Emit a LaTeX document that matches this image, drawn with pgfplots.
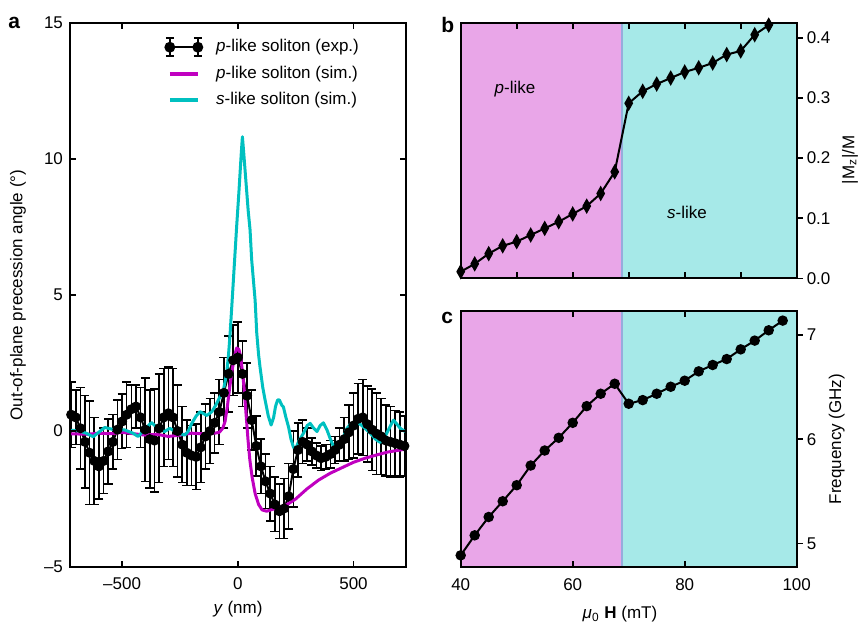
\documentclass[border=0pt]{standalone}
\usepackage{fontspec}
\setmainfont{Liberation Sans}
\usepackage{pgfplots}
\usepackage{pgfplotstable}
\pgfplotsset{compat=1.18}

\definecolor{simp}{RGB}{192,0,192}
\definecolor{sims}{RGB}{0,192,192}
\definecolor{bgp}{RGB}{233,166,232}
\definecolor{bgs}{RGB}{166,233,232}
\definecolor{divline}{RGB}{150,172,220}

% p-like soliton, experiment: y (nm), angle (deg), error
\pgfplotstableread{
y a e
-720 0.6 1.2
-700 0.5 1.0
-680 0.1 1.5
-660 -0.4 1.7
-640 -0.8 1.9
-620 -1.1 1.6
-600 -1.3 1.2
-580 -1.1 1.2
-560 -0.75 1.2
-540 -0.4 1.0
-520 0.05 1.1
-500 0.35 1.0
-480 0.6 1.2
-460 0.8 0.9
-440 0.9 0.8
-420 0.5 1.1
-400 0.05 1.9
-380 -0.3 1.8
-360 -0.35 1.9
-340 0.1 2.0
-320 0.5 1.8
-300 0.65 1.7
-280 0.5 1.8
-260 0.0 1.7
-240 -0.5 1.4
-220 -0.8 1.2
-200 -0.9 1.1
-180 -0.95 1.2
-160 -0.6 1.3
-140 -0.2 1.2
-120 0.0 1.2
-100 0.3 1.1
-80 0.7 1.2
-60 1.4 1.3
-40 2.1 1.4
-20 2.6 1.3
0 2.7 1.3
20 2.1 1.2
40 1.3 1.2
60 0.4 1.1
80 -0.55 1.1
100 -1.3 1.0
120 -1.85 1.0
140 -2.3 1.0
160 -2.7 1.0
180 -2.95 1.0
200 -2.85 1.1
220 -2.4 1.2
240 -1.4 1.4
260 -0.7 1.0
280 -0.4 0.8
300 -0.5 0.6
320 -0.75 0.5
340 -0.9 0.45
360 -1.0 0.45
380 -0.95 0.45
400 -0.85 0.5
420 -0.7 0.5
440 -0.5 0.6
460 -0.3 0.8
480 -0.05 1.0
500 0.2 1.2
520 0.45 1.3
540 0.5 1.4
560 0.25 1.4
580 0.05 1.5
600 -0.1 1.5
620 -0.2 1.4
640 -0.35 1.3
660 -0.4 1.3
680 -0.45 1.2
700 -0.5 1.2
720 -0.55 1.1
}\expdata

% p-like soliton, simulation
\pgfplotstableread{
y a
-725 -0.1
-650 -0.12
-600 -0.08
-550 -0.1
-500 -0.05
-450 -0.1
-400 -0.15
-350 -0.12
-300 -0.2
-250 -0.15
-200 -0.08
-150 -0.1
-100 -0.08
-80 -0.05
-65 0.1
-55 0.35
-45 0.9
-35 1.6
-25 2.2
-15 2.7
-5 3.05
5 3.0
12 2.75
20 2.2
28 1.5
36 0.6
44 -0.3
52 -1.05
62 -1.7
75 -2.3
90 -2.7
105 -2.9
125 -2.95
150 -2.88
180 -2.82
210 -2.72
250 -2.5
300 -2.12
350 -1.8
400 -1.55
450 -1.35
500 -1.15
550 -1.0
600 -0.88
650 -0.77
700 -0.7
725 -0.67
}\simp

% s-like soliton, simulation
\pgfplotstableread{
y a
-725 0.03
-690 0.01
-655 -0.08
-625 -0.21
-597 -0.02
-575 0.13
-550 0.08
-532 0.04
-489 0.04
-453 -0.08
-431 -0.2
-410 -0.02
-395 0.12
-373 0.31
-345 0.1
-316 -0.02
-294 0.1
-258 -0.08
-229 -0.15
-215 -0.02
-199 0.28
-180 0.55
-163 0.71
-150 0.65
-134 0.57
-112 0.71
-95 0.95
-84 1.14
-62 1.51
-48 2.12
-40 2.8
-33 3.6
-25 4.7
-15 6.1
-5 7.5
5 8.8
15 10.2
20 10.82
25 10.3
35 9.2
45 8.1
53 7.4
60 6.3
70 5.3
75 4.8
82 3.6
90 2.8
96 2.36
108 1.6
118 1.14
132 0.55
144 0.22
155 0.5
163 0.9
172 1.14
180 1.14
190 0.95
197 0.89
208 0.5
219 0.16
230 -0.3
240 -0.58
248 -0.7
262 -0.4
284 -0.08
300 0.2
313 0.28
328 0.1
342 -0.02
356 0.2
370 0.3
385 0.05
399 -0.27
415 -0.6
428 -0.7
443 -0.5
457 -0.21
472 0.1
486 0.25
510 0.28
529 0.25
550 0.1
572 -0.08
595 -0.3
615 -0.42
630 -0.3
644 -0.08
660 0.2
673 0.4
688 0.25
702 0.1
723 -0.02
}\sims

% field (mT), |Mz|/M, frequency (GHz)
\pgfplotstableread{
h mz f
40 0.011 4.885
42.5 0.024 5.077
45 0.041 5.253
47.5 0.054 5.404
50 0.061 5.558
52.5 0.072 5.747
55 0.083 5.891
57.5 0.094 6.013
60 0.107 6.157
62.5 0.120 6.317
65 0.141 6.436
67.5 0.177 6.532
70 0.291 6.340
72.5 0.311 6.375
75 0.323 6.436
77.5 0.333 6.503
80 0.343 6.561
82.5 0.350 6.651
85 0.358 6.712
87.5 0.372 6.769
90 0.378 6.862
92.5 0.405 6.946
95 0.421 7.045
97.5 0.431 7.138
}\field

\pgfplotsset{
  every axis/.append style={
    scale only axis, enlargelimits=false, axis on top,
    axis line style={line width=1pt},
    tick style={line width=0.8pt, black},
    major tick length=3pt, tick align=inside,
    font=\fontsize{8.5}{10}\selectfont,
    ticklabel style={font=\fontsize{8.5}{10}\selectfont},
  },
  rightpanel/.style={
    width=168pt, xmin=40, xmax=100,
    ytick pos=right, yticklabel pos=right,
    every y tick/.append style={xshift=3pt},
    yticklabel style={xshift=1.5pt},
  },
}

\begin{document}
\begin{tikzpicture}
% ---- panel a
\begin{axis}[
  at={(35pt,28pt)}, anchor=south west, width=168pt, height=272pt,
  xmin=-725, xmax=727, ymin=-5, ymax=15,
  xtick={-500,0,500}, xticklabels={\textendash500,0,500},
  ytick={-5,0,5,10,15}, yticklabels={\textendash5,0,5,10,15},
  xticklabel style={yshift=-2pt},
  xlabel={\textit{y} (nm)},
  xlabel style={at={(axis description cs:0.5,0)}, anchor=center, yshift=-21pt},
  ylabel={Out-of-plane precession angle (°)},
  ylabel style={at={(axis description cs:-0.155,0.5)}, anchor=center},
  legend style={at={(axis description cs:0.262,0.985)}, anchor=north west,
    draw=none, fill=none, row sep=1.5pt, font=\fontsize{8.5}{10}\selectfont,
    /tikz/column 1/.style={column sep=4.5pt}},
  legend cell align=left,
]
\addplot[black, line width=1pt, mark=*, mark size=2pt,
  legend image code/.code={
    \draw[black, line width=1pt] (0pt,0pt) -- (14pt,0pt);
    \draw[black, line width=0.8pt] (0pt,-4.5pt) -- (0pt,4.5pt) (-2pt,-4.5pt) -- (2pt,-4.5pt) (-2pt,4.5pt) -- (2pt,4.5pt)
      (14pt,-4.5pt) -- (14pt,4.5pt) (12pt,-4.5pt) -- (16pt,-4.5pt) (12pt,4.5pt) -- (16pt,4.5pt);
    \fill[black] (0pt,0pt) circle (2.2pt) (14pt,0pt) circle (2.2pt);},
  error bars/.cd, y dir=both, y explicit,
  error bar style={line width=0.8pt, black},
  error mark options={black, mark size=2.2pt, line width=0.8pt, rotate=90},
  ] table[x=y, y=a, y error=e] {\expdata};
\addlegendentry{\textit{p}-like soliton (exp.)}
\addplot[simp, line width=1.5pt, line join=round,
  legend image code/.code={\draw[simp, line width=2pt] (0pt,0pt) -- (14pt,0pt);}]
  table[x=y, y=a] {\simp};
\addlegendentry{\textit{p}-like soliton (sim.)}
\addplot[sims, line width=1.5pt, line join=round,
  legend image code/.code={\draw[sims, line width=2pt] (0pt,0pt) -- (14pt,0pt);}]
  table[x=y, y=a] {\sims};
\addlegendentry{\textit{s}-like soliton (sim.)}
\end{axis}

% ---- panel b
\begin{axis}[rightpanel,
  at={(230.35pt,172.35pt)}, anchor=south west, height=127.8pt,
  ymin=0, ymax=0.425,
  xtick={40,50,...,100}, xticklabels={},
  ytick={0,0.1,0.2,0.3,0.4}, yticklabels={0.0,0.1,0.2,0.3,0.4},
  ylabel={|M\textsubscript{z}|/M},
  ylabel style={at={(axis description cs:1.159,0.463)}, anchor=center},
]
\addplot[draw=none, fill=bgp] coordinates {(40,0) (68.75,0) (68.75,0.425) (40,0.425) (40,0)};
\addplot[draw=none, fill=bgs] coordinates {(68.75,0) (100,0) (100,0.425) (68.75,0.425) (68.75,0)};
\addplot[divline, line width=1pt] coordinates {(68.75,0) (68.75,0.425)};
\addplot[black, line width=1pt, mark=diamond*, mark size=2.9pt, mark options={xscale=0.75}]
  table[x=h, y=mz] {\field};
\node[font=\fontsize{8.5}{10}\selectfont] at (axis cs:49.7,0.314) {\textit{p}-like};
\node[font=\fontsize{8.5}{10}\selectfont] at (axis cs:80.4,0.110) {\textit{s}-like};
\end{axis}

% ---- panel c
\begin{axis}[rightpanel,
  at={(230.35pt,27.85pt)}, anchor=south west, height=128.3pt,
  ymin=4.77, ymax=7.233,
  xtick={40,60,80,100}, xticklabels={40,60,80,100},
  xticklabel style={yshift=-2pt},
  ytick={5,6,7}, yticklabels={5,6,7},
  xlabel={\textit{μ}\textsubscript{0} \textbf{H} (mT)},
  xlabel style={at={(axis description cs:0.474,0)}, anchor=center, yshift=-23.3pt},
  ylabel={Frequency (GHz)},
  ylabel style={at={(axis description cs:1.119,0.5)}, anchor=center},
]
\addplot[draw=none, fill=bgp] coordinates {(40,4.77) (68.75,4.77) (68.75,7.233) (40,7.233) (40,4.77)};
\addplot[draw=none, fill=bgs] coordinates {(68.75,4.77) (100,4.77) (100,7.233) (68.75,7.233) (68.75,4.77)};
\addplot[divline, line width=1pt] coordinates {(68.75,4.77) (68.75,7.233)};
\addplot[black, line width=1pt, mark=*, mark size=2.1pt] table[x=h, y=f] {\field};
\end{axis}

\node[anchor=base west, font=\bfseries\fontsize{10.5}{12}\selectfont, inner sep=0pt] at (4pt,297.5pt) {a};
\node[anchor=base west, font=\bfseries\fontsize{10.5}{12}\selectfont, inner sep=0pt] at (220.5pt,295pt) {b};
\node[anchor=base west, font=\bfseries\fontsize{10.5}{12}\selectfont, inner sep=0pt] at (220.5pt,150pt) {c};

\pgfresetboundingbox
\path[use as bounding box] (0,0) rectangle (430.5pt,311.5pt);
\end{tikzpicture}
\end{document}
